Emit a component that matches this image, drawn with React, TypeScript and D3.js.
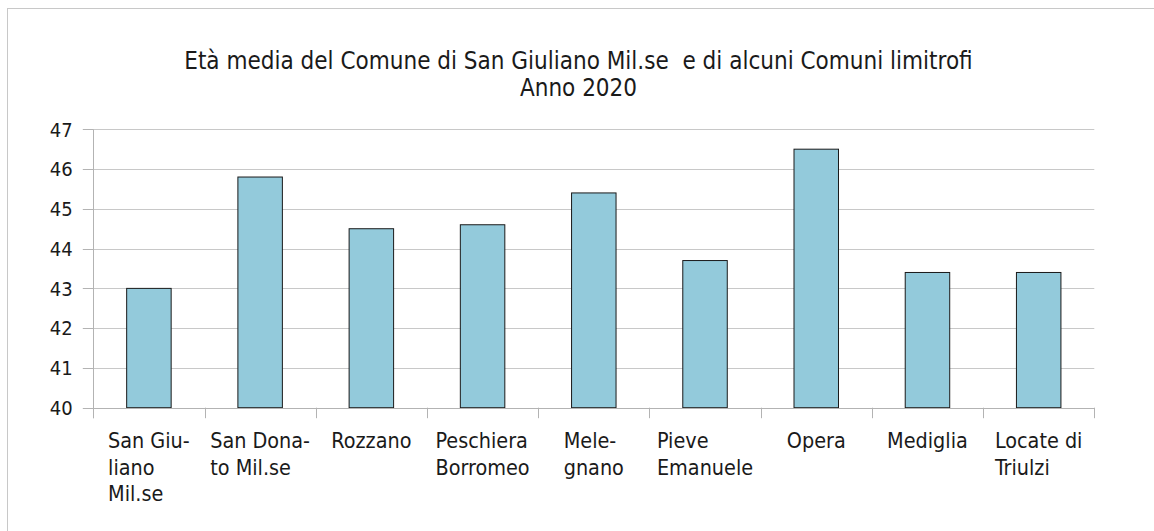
import React, { useEffect, useRef } from "react";
import * as d3 from "d3";

const categories: string[][] = [
  ["San Giu-", "liano", "Mil.se"],
  ["San Dona-", "to Mil.se"],
  ["Rozzano"],
  ["Peschiera", "Borromeo"],
  ["Mele-", "gnano"],
  ["Pieve", "Emanuele"],
  ["Opera"],
  ["Mediglia"],
  ["Locate di", "Triulzi"],
];
const values: number[] = [43.0, 45.8, 44.5, 44.6, 45.4, 43.7, 46.5, 43.4, 43.4];
const yTicks: number[] = [40, 41, 42, 43, 44, 45, 46, 47];
const titleLines: string[] = [
  "Età media del Comune di San Giuliano Mil.se  e di alcuni Comuni limitrofi",
  "Anno 2020",
];

const W = 1154;
const H = 531;
const FONT = "'DejaVu Sans Condensed', 'DejaVu Sans', sans-serif";

export default function App() {
  const ref = useRef<SVGSVGElement>(null);

  useEffect(() => {
    const svg = d3.select(ref.current);
    svg.selectAll("*").remove();

    const left = 93.3, right = 1094.3, top = 129.3, bottom = 407.7;

    const x = d3.scaleBand<number>().domain(d3.range(categories.length)).range([left, right]).paddingInner(0).paddingOuter(0);
    const y = d3.scaleLinear().domain([40, 47]).range([bottom, top]);

    // frame
    svg.append("rect").attr("x", 7.5).attr("y", 8.5).attr("width", W + 10).attr("height", H + 10)
      .attr("fill", "white").attr("stroke", "#c8c8c8").attr("stroke-width", 1);

    // title
    const t = svg.append("text").attr("font-family", FONT).attr("font-size", 24).attr("fill", "#1a1a1a")
      .attr("text-anchor", "middle").attr("xml:space", "preserve").style("white-space", "pre");
    titleLines.forEach((l, i) => {
      t.append("tspan").attr("x", 578.5).attr("y", 69 + i * 27).text(l);
    });

    // gridlines
    svg.append("g").selectAll("line").data(yTicks.slice(1)).join("line")
      .attr("x1", left).attr("x2", right)
      .attr("y1", (d) => Math.round(y(d)) + 0.5).attr("y2", (d) => Math.round(y(d)) + 0.5)
      .attr("stroke", "#c8c8c8").attr("stroke-width", 1);

    // bars
    const bw = x.bandwidth() * 0.4;
    svg.append("g").selectAll("rect").data(values).join("rect")
      .attr("x", (_, i) => (x(i) as number) + x.bandwidth() / 2 - bw / 2)
      .attr("y", (d) => y(d))
      .attr("width", bw)
      .attr("height", (d) => bottom - y(d))
      .attr("fill", "#93cadb").attr("stroke", "#1a1a1a").attr("stroke-width", 1);

    // axes
    const ax = svg.append("g").attr("stroke", "#b3b3b3").attr("stroke-width", 1);
    ax.append("line").attr("x1", left).attr("x2", right).attr("y1", Math.round(bottom) + 0.5).attr("y2", Math.round(bottom) + 0.5);
    ax.append("line").attr("x1", Math.round(left) + 0.5).attr("x2", Math.round(left) + 0.5).attr("y1", top).attr("y2", bottom + 10.5);
    // y ticks
    ax.selectAll("line.yt").data(yTicks).join("line").attr("class", "yt")
      .attr("x1", left - 10.5).attr("x2", left)
      .attr("y1", (d) => Math.round(y(d)) + 0.5).attr("y2", (d) => Math.round(y(d)) + 0.5);
    // x ticks
    const bounds = d3.range(categories.length + 1).map((i) => left + i * x.bandwidth());
    ax.selectAll("line.xt").data(bounds).join("line").attr("class", "xt")
      .attr("x1", (d) => Math.round(d) + 0.5).attr("x2", (d) => Math.round(d) + 0.5)
      .attr("y1", bottom).attr("y2", bottom + 10.5);

    // y labels
    svg.append("g").selectAll("text").data(yTicks).join("text")
      .attr("x", 72.7).attr("y", (d) => y(d)).attr("dy", "0.36em")
      .attr("text-anchor", "end").attr("font-family", FONT).attr("font-size", 20).attr("fill", "#1a1a1a")
      .text((d) => String(d));

    // x labels
    categories.forEach((lines, i) => {
      const cx = (x(i) as number) + x.bandwidth() / 2;
      const g = svg.append("text").attr("font-family", FONT).attr("font-size", 21.4).attr("fill", "#1a1a1a");
      const spans = lines.map((l, j) => g.append("tspan").attr("y", 448.3 + j * 26.2).text(l));
      const maxW = d3.max(spans, (s) => (s.node() as SVGTSpanElement).getComputedTextLength()) || 0;
      spans.forEach((s) => s.attr("x", cx - maxW / 2));
    });
  }, []);

  return (
    <div style={{ position: "absolute", left: 0, top: 0 }}>
      <svg ref={ref} width={W} height={H} style={{ display: "block" }} />
    </div>
  );
}
